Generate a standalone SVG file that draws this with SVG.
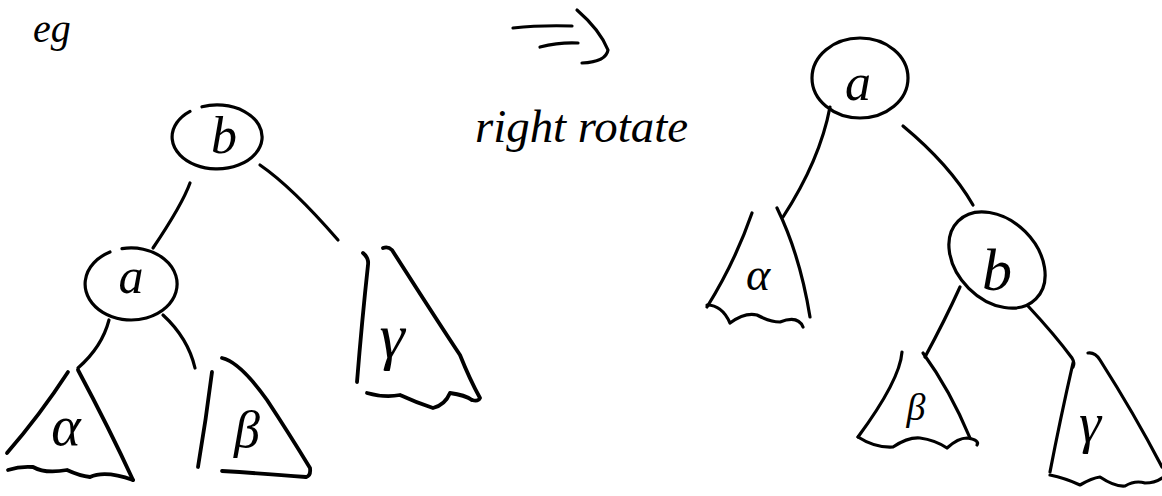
<svg xmlns="http://www.w3.org/2000/svg" width="1162" height="496" viewBox="0 0 1162 496">
<style>
.s{fill:none;stroke:#000;stroke-width:3.2;stroke-linecap:round;stroke-linejoin:round}
.k{stroke-width:3.8}
.t{font-family:"Liberation Serif","DejaVu Serif",serif;font-style:italic;fill:#000;text-anchor:middle}
</style>
<rect width="1162" height="496" fill="#fff"/>
<text class="t" x="52" y="42" font-size="40">eg</text>
<g id="arrow">
<path class="s" d="M513 28 Q540 25 572 26"/>
<path class="s" d="M540 47 Q560 42 578 43"/>
<path class="s" d="M577 10 Q600 30 608 50 Q606 62 582 63"/>
</g>
<text x="475" y="142" font-family="Liberation Serif, serif" font-style="italic" font-size="46" textLength="213" lengthAdjust="spacingAndGlyphs">right rotate</text>

<g id="connectors">
<path class="s" d="M190 183 Q182 205 153 248"/>
<path class="s" d="M260 165 Q292 187 338 240"/>
<path class="s" d="M109 320 Q102 347 78 368"/>
<path class="s" d="M163 315 Q188 338 195 368"/>
<path class="s" d="M830 107 Q820 160 783 217"/>
<path class="s" d="M903 126 Q950 165 973 205"/>
<path class="s" d="M960 287 Q945 320 925 357"/>
<path class="s" d="M1028 306 Q1055 335 1072 358 Q1075 363 1073 367"/>
</g>

<g id="L-b">
<path class="s" d="M202 106.8 A45 32 0 1 1 190 111.4"/>
<text class="t" x="224" y="153" font-size="52">b</text>
</g>
<g id="L-a">
<path class="s" d="M122 248.7 A46 36 0 1 1 110 252"/>
<text class="t" x="131" y="293" font-size="50">a</text>
</g>
<g id="L-alpha">
<path class="s k" d="M68 372 Q40 415 7 453"/>
<path class="s k" d="M78 370 Q110 430 133 480"/>
<path class="s k" d="M8 470 Q20 466 33 467 Q45 474 67 470 Q80 476 90 477 Q105 470 133 480"/>
<text class="t" x="66" y="445" font-size="56">α</text>
</g>
<g id="L-beta">
<path class="s k" d="M212 372 Q206 420 198 467"/>
<path class="s k" d="M222 358 Q240 362 267 400 Q290 435 310 468 Q311 476 306 477"/>
<path class="s k" d="M222 471 Q270 474 306 477"/>
<text class="t" x="247" y="447" font-size="52">β</text>
</g>
<g id="L-gamma">
<path class="s k" d="M363 253 Q369 258 368 265 Q362 320 357 382"/>
<path class="s k" d="M383 248 Q388 246 392 250 Q440 325 460 355 Q470 380 480 398 Q478 402 472 400"/>
<path class="s k" d="M367 393 Q385 398 400 395 Q415 402 433 408 Q445 405 450 393 Q465 395 472 400"/>
<text class="t" x="392" y="357" font-size="64">γ</text>
</g>

<g id="R-a">
<ellipse class="s" cx="860" cy="78" rx="48" ry="40"/>
<text class="t" x="858" y="100" font-size="52">a</text>
</g>
<g id="R-b">
<ellipse class="s" cx="997" cy="260" rx="55" ry="40" transform="rotate(45 997 260)"/>
<text class="t" x="997" y="290" font-size="60">b</text>
</g>
<g id="R-alpha">
<path class="s" d="M752 213 Q735 262 707 307"/>
<path class="s" d="M777 208 Q800 255 810 317"/>
<path class="s" d="M707 305 Q722 305 730 323 Q745 312 757 315 Q770 322 780 322 Q798 315 803 327"/>
<text class="t" x="758" y="290" font-size="46">α</text>
</g>
<g id="R-beta">
<path class="s" d="M902 352 Q900 380 858 437"/>
<path class="s" d="M923 353 Q950 390 970 438"/>
<path class="s" d="M858 437 Q875 448 893 447 Q908 437 920 438 Q935 440 947 448 Q958 438 967 438 Q980 440 977 445"/>
<text class="t" x="916" y="420" font-size="38">β</text>
</g>
<g id="R-gamma">
<path class="s" d="M1073 363 Q1060 420 1050 472"/>
<path class="s" d="M1088 353 Q1095 352 1100 360 Q1135 415 1162 467"/>
<path class="s" d="M1050 475 Q1065 478 1080 485 Q1092 478 1100 477 Q1115 487 1125 486 Q1135 480 1145 483 Q1155 483 1162 478"/>
<text class="t" x="1090" y="442" font-size="56">γ</text>
</g>
</svg>
